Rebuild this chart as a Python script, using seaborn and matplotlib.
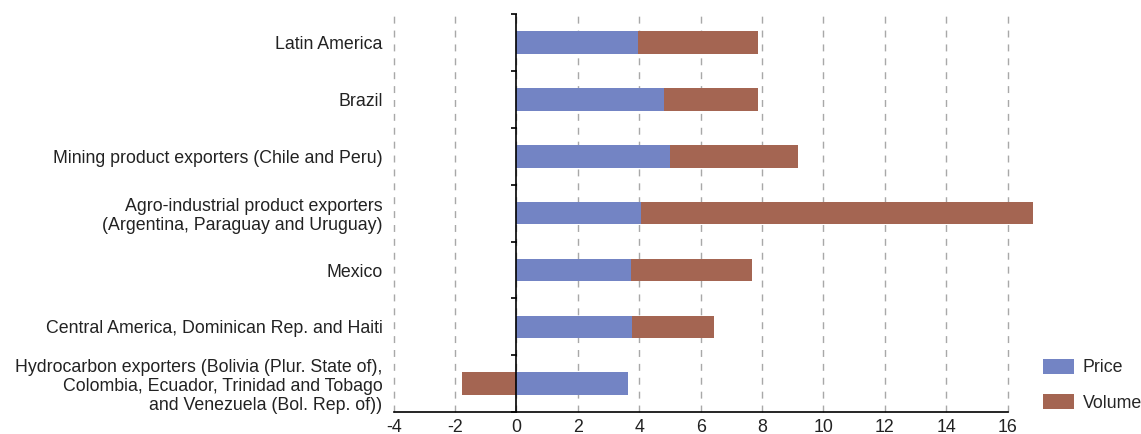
import numpy as np
import pandas as pd
import matplotlib
matplotlib.use("Agg")
import matplotlib.pyplot as plt
import seaborn as sns

categories = [
    "Latin America",
    "Brazil",
    "Mining product exporters (Chile and Peru)",
    "Agro-industrial product exporters\n(Argentina, Paraguay and Uruguay)",
    "Mexico",
    "Central America, Dominican Rep. and Haiti",
    "Hydrocarbon exporters (Bolivia (Plur. State of),\nColombia, Ecuador, Trinidad and Tobago\nand Venezuela (Bol. Rep. of))",
]
price = [3.97, 4.82, 5.02, 4.07, 3.74, 3.77, 3.64]
volume = [3.90, 3.05, 4.16, 12.75, 3.93, 2.66, -1.77]
x_ticks = [-4, -2, 0, 2, 4, 6, 8, 10, 12, 14, 16]

sns.set_theme(style="white")
plt.rcParams["font.family"] = ["Liberation Sans", "DejaVu Sans"]

c_price = "#7384c4"
c_volume = "#a46552"
fs = 12.8

df = pd.DataFrame({"region": categories, "price": price, "volume": volume})
df["vol_left"] = np.where(df["volume"] > 0, df["price"], 0)

fig = plt.figure(figsize=(11.41, 4.34), dpi=100)
ax = fig.add_axes([0.345, 0.05, 0.538, 0.918])

sns.barplot(data=df, y="region", x="price", color=c_price, orient="h",
            width=0.4, ax=ax, saturation=1, linewidth=0, label="Price")
ax.barh(np.arange(len(df)), df["volume"], left=df["vol_left"], height=0.4,
        color=c_volume, linewidth=0, label="Volume")
for p in ax.patches:
    p.set_clip_on(False)
if ax.get_legend() is not None:
    ax.get_legend().remove()

ax.set_xlim(-4, 16)
ax.set_ylim(len(df) - 0.5, -0.5)
ax.set_xticks(x_ticks)
ax.set_xticklabels([str(t) for t in x_ticks], fontsize=fs, color="#222222")
ax.set_xlabel("")
ax.set_ylabel("")

for t in x_ticks:
    ax.axvline(t, color="#a8a8a8", linestyle=(0, (5, 5)), linewidth=1, zorder=0, clip_on=False)

for s in ["top", "right", "left"]:
    ax.spines[s].set_visible(False)
ax.spines["bottom"].set_color("black")
ax.spines["bottom"].set_linewidth(1.2)
ax.axvline(0, color="black", linewidth=1.2, zorder=3)

ax.tick_params(axis="x", direction="inout", length=8, width=1, color="black", pad=1)
ax.set_yticks(np.arange(len(df)))
ax.set_yticklabels(categories, fontsize=fs, linespacing=1.15, color="#222222")
ax.tick_params(axis="y", length=0, pad=8)

# small boundary ticks on the zero line
bounds = np.arange(-0.5, len(df), 1.0)
ax.plot(np.full_like(bounds, -0.08), bounds, linestyle="none", marker="_", markersize=5,
        markeredgewidth=1.2, color="black", clip_on=False, zorder=4)

h, l = ax.get_legend_handles_labels()
fig.legend(h, l, loc="lower left", bbox_to_anchor=(0.9, 0.014), frameon=False,
           fontsize=fs, handlelength=1.75, handleheight=0.95, labelspacing=1.0,
           handletextpad=0.5)

fig.savefig("out.png", dpi=100)
